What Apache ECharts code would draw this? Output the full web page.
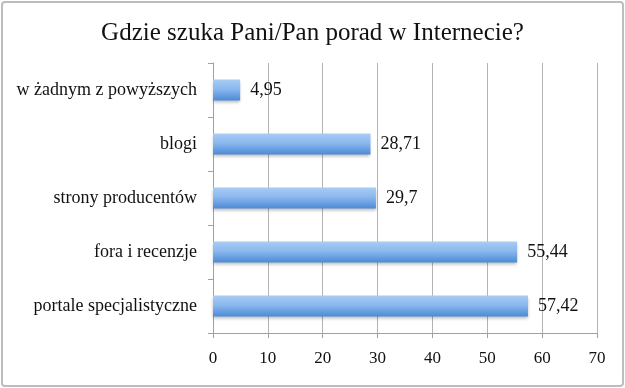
<!DOCTYPE html>
<html><head><meta charset="utf-8">
<script src="https://cdn.jsdelivr.net/npm/echarts@6/dist/echarts.min.js"></script>
<style>
html,body{margin:0;padding:0;background:#fff;}
#wrap{position:absolute;left:1px;top:1px;width:623px;height:386px;box-sizing:border-box;border:2px solid #bdbdbd;border-radius:4px;}
#c{position:absolute;left:0;top:0;width:625px;height:388px;}
</style></head>
<body>
<div id="wrap"></div>
<div id="c"></div>
<script>
var title = 'Gdzie szuka Pani/Pan porad w Internecie?';
var categories = ['portale specjalistyczne','fora i recenzje','strony producentów','blogi','w żadnym z powyższych'];
var values = [57.42, 55.44, 29.7, 28.71, 4.95];
var xTicks = [0,10,20,30,40,50,60,70];

var FONT = '"Liberation Serif", "DejaVu Serif", serif';
var chart = echarts.init(document.getElementById('c'), null, {renderer:'canvas'});
chart.setOption({
  animation:false,
  backgroundColor:'transparent',
  title:{text:title,left:'center',top:16,textStyle:{fontFamily:FONT,fontSize:25,fontWeight:'normal',color:'#111'}},
  grid:{left:213,right:28,top:63,bottom:55},
  xAxis:{type:'value',min:xTicks[0],max:xTicks[xTicks.length-1],interval:10,
    axisLine:{show:true,lineStyle:{color:'#a0a0a0'}},
    axisTick:{show:true,length:5,lineStyle:{color:'#a0a0a0'}},
    splitLine:{show:true,lineStyle:{color:'#b4b4b4'}},
    axisLabel:{margin:17,fontFamily:FONT,fontSize:17,color:'#111'}},
  yAxis:{type:'category',data:categories,
    axisLine:{show:true,lineStyle:{color:'#a0a0a0'}},
    axisTick:{show:true,length:5,lineStyle:{color:'#a0a0a0'}},
    axisLabel:{margin:16,fontFamily:FONT,fontSize:18,color:'#111'}},
  series:[{type:'bar',data:values,barWidth:21,
    itemStyle:{color:new echarts.graphic.LinearGradient(0,0,0,1,[
      {offset:0,color:'#a8ccf4'},{offset:0.45,color:'#8bb8ee'},{offset:1,color:'#4c8ad6'}]),
      shadowColor:'rgba(0,0,0,0.25)',shadowBlur:3,shadowOffsetY:2},
    label:{show:true,position:'right',distance:10,fontFamily:FONT,fontSize:18,color:'#111',
      formatter:function(p){return String(p.value).replace('.',',');}}
  }]
});
</script>
</body></html>
